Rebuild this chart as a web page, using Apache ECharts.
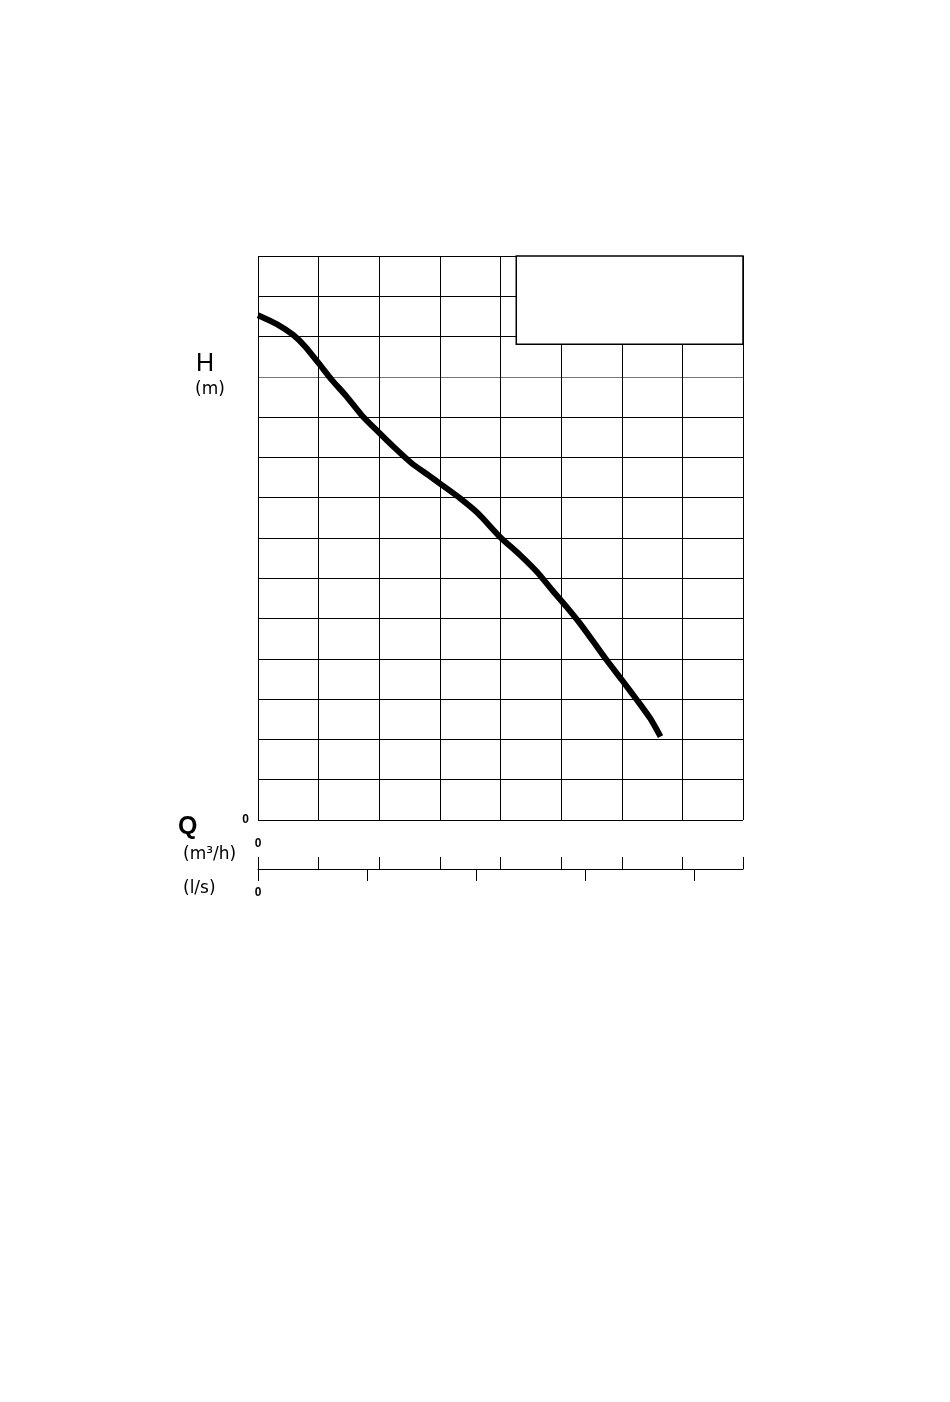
<!DOCTYPE html>
<html>
<head>
<meta charset="utf-8">
<script src="https://cdn.jsdelivr.net/npm/echarts@6/dist/echarts.min.js"></script>
<style>html,body{margin:0;padding:0;background:#fff}#c{width:950px;height:1402px}</style>
</head>
<body>
<div id="c"></div>
<script>
// Flow Q (m³/h) and head H (m)
var flowQ = [0, 0.31, 0.58, 0.78, 1.0, 1.22, 1.44, 1.71, 1.98, 2.26, 2.54, 2.81, 3.03, 3.33, 3.63, 3.99, 4.32, 4.6, 4.85, 5.09, 5.31, 5.53, 5.75, 6.0, 6.25, 6.47, 6.64];
var headH = [12.53, 12.31, 12.04, 11.75, 11.34, 10.92, 10.55, 10.05, 9.64, 9.23, 8.85, 8.56, 8.32, 7.99, 7.61, 7.03, 6.58, 6.16, 5.71, 5.29, 4.88, 4.43, 3.97, 3.48, 2.98, 2.52, 2.07];
var qMax = 8;          // m³/h
var hMax = 14;         // m
var lsTicks = [0, 0.5, 1, 1.5, 2];   // l/s
var boxQ = [4.26, 8];  // legend box extent
var boxH = [11.81, 14];

var curve = flowQ.map(function (q, i) { return [q, headH[i]]; });
var gridColors = [];
for (var i = 0; i <= hMax; i++) gridColors.push(i === 11 ? '#777' : '#000');

var chart = echarts.init(document.getElementById('c'), null, {renderer: 'canvas'});
chart.setOption({
  animation: false,
  backgroundColor: '#fff',
  grid: {left: 258, top: 256, width: 485, height: 564},
  xAxis: [
    {
      type: 'value', min: 0, max: qMax, interval: 1,
      axisLine: {show: false}, axisTick: {show: false}, axisLabel: {show: false},
      splitLine: {show: true, lineStyle: {color: '#000', width: 1}}
    },
    {
      type: 'value', min: 0, max: qMax, interval: 1, position: 'bottom', offset: 49,
      axisLine: {show: true, onZero: false, lineStyle: {color: '#000', width: 1}},
      axisTick: {show: true, inside: true, length: 12, lineStyle: {color: '#000', width: 1}},
      axisLabel: {show: true, inside: true, margin: 19, color: '#000', fontSize: 12, fontWeight: 'bold',
        fontFamily: 'Liberation Sans', formatter: function (v) { return v === 0 ? '0' : ''; }},
      splitLine: {show: false}
    },
    {
      type: 'value', min: 0, max: qMax / 3.6, position: 'bottom', offset: 49,
      axisLine: {show: false, onZero: false},
      axisTick: {show: true, inside: false, length: 12, customValues: lsTicks, lineStyle: {color: '#000', width: 1}},
      axisLabel: {show: true, margin: 18, color: '#000', fontSize: 12, fontWeight: 'bold',
        fontFamily: 'Liberation Sans', customValues: [0], formatter: function (v) { return v === 0 ? '0' : ''; }},
      splitLine: {show: false}
    }
  ],
  yAxis: [{
    type: 'value', min: 0, max: hMax, interval: 1,
    axisLine: {show: false}, axisTick: {show: false},
    axisLabel: {show: true, margin: 9, color: '#000', fontSize: 12, fontWeight: 'bold', fontFamily: 'Liberation Sans',
      padding: [0, 0, 10, 0], formatter: function (v) { return v === 0 ? '0' : ''; }},
    splitLine: {show: true, lineStyle: {color: gridColors, width: 1}}
  }],
  series: [{
    type: 'line', xAxisIndex: 0, yAxisIndex: 0, data: curve, smooth: 0.2, showSymbol: false,
    lineStyle: {color: '#000', width: 6}, z: 5,
    markArea: {
      silent: true,
      itemStyle: {color: '#fff', opacity: 1, borderColor: '#000', borderWidth: 1.5},
      data: [[{coord: [boxQ[0], boxH[1]]}, {coord: [boxQ[1], boxH[0]]}]]
    }
  }],
  graphic: [
    {type: 'text', left: 196, top: 352, style: {text: 'H', fontSize: 25, fontFamily: 'Liberation Sans', fill: '#000'}},
    {type: 'text', left: 195, top: 381, style: {text: '(m)', fontSize: 17, fontFamily: 'DejaVu Sans', fill: '#000'}},
    {type: 'text', left: 178, top: 815, style: {text: 'Q', fontSize: 25, fontWeight: 'bold', fontFamily: 'Liberation Sans', fill: '#000'}},
    {type: 'text', left: 183, top: 846, style: {text: '(m³/h)', fontSize: 17, fontFamily: 'DejaVu Sans', fill: '#000'}},
    {type: 'text', left: 183, top: 880, style: {text: '(l/s)', fontSize: 17, fontFamily: 'DejaVu Sans', fill: '#000'}}
  ]
});
</script>
</body>
</html>
